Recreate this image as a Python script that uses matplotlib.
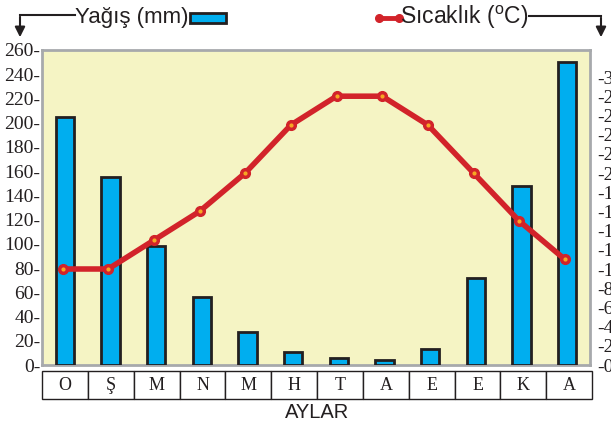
import matplotlib
matplotlib.use("Agg")
import matplotlib.pyplot as plt
from matplotlib.patches import Rectangle
from matplotlib.lines import Line2D

months = ["O", "Ş", "M", "N", "M", "H", "T", "A", "E", "E", "K", "A"]
rain_mm = [205, 155, 98, 56, 27, 11, 6, 4, 13, 72, 148, 250]
temp_c = [10, 10, 13, 16, 20, 25, 28, 28, 25, 20, 15, 11]
left_ticks = list(range(0, 261, 20))
right_ticks = list(range(0, 31, 2))

plt.rcParams['mathtext.fontset'] = 'custom'
plt.rcParams['mathtext.rm'] = 'Liberation Sans'

W, H = 611, 425
fig = plt.figure(figsize=(W / 100, H / 100), dpi=100)
fig.patch.set_facecolor("white")

def fx(x):
    return x / W

def fy(y):
    return 1 - y / H

L, R, T, B = 42, 590, 50, 365
ax = fig.add_axes([fx(L), fy(B), fx(R) - fx(L), fy(T) - fy(B)])
ax.set_facecolor("#F5F4C4")
for s in ax.spines.values():
    s.set_color("#A7A9AC")
    s.set_linewidth(2)

x = list(range(len(months)))
ax.bar(x, rain_mm, width=0.4, color="#00AEEF", edgecolor="#231F20", linewidth=2, zorder=3)
ax.set_xlim(-0.5, 11.5)
ax.set_ylim(0, 260)
ax.set_yticks(left_ticks)
ax.set_yticklabels([f"{v}-" for v in left_ticks], fontfamily="Liberation Serif", fontsize=14, color="#231F20")
ax.tick_params(axis="y", length=0, pad=1)
ax.set_xticks([])

ax2 = ax.twinx()
ax2.set_ylim(0, 315 / 9.6)
ax2.plot([v - 0.05 for v in x], temp_c, color="#D2232A", linewidth=4, marker="o", markersize=7,
         markerfacecolor="#D2232A", markeredgecolor="#D2232A", zorder=4, solid_capstyle="round")
ax2.plot([v - 0.05 for v in x], temp_c, linestyle="none", marker="o", markersize=2, color="#F7A823", zorder=5)
ax2.set_yticks(right_ticks)
ax2.set_yticklabels([f"-{v}" for v in right_ticks], fontfamily="Liberation Serif", fontsize=14, color="#231F20")
ax2.tick_params(axis="y", length=0, pad=5)
for s in ax2.spines.values():
    s.set_visible(False)

# month table
tbl = ax.table(cellText=[months], cellLoc="center", bbox=[0, -0.108, 1.004, 0.089])
tbl.auto_set_font_size(False)
for (r, c), cell in tbl.get_celld().items():
    cell.set_edgecolor("#231F20")
    cell.set_linewidth(1)
    cell.get_text().set_fontfamily("Liberation Serif")
    cell.get_text().set_fontsize(13)
    cell.get_text().set_color("#231F20")

fig.text(fx(317), fy(412), "AYLAR", ha="center", va="center", fontfamily="Liberation Sans", fontsize=14.5, color="#231F20")

# header legend
sans = "Liberation Sans"
fig.add_artist(Line2D([fx(20), fx(75)], [fy(15), fy(15)], color="#231F20", lw=1.5))
ax.annotate("", xy=(fx(20), fy(40)), xytext=(fx(20), fy(14)), xycoords="figure fraction",
            arrowprops=dict(arrowstyle="-|>", color="#231F20", lw=1.5, mutation_scale=15))
fig.text(fx(75), fy(17), "Yağış (mm)", ha="left", va="center", fontfamily=sans, fontsize=16, color="#231F20")
fig.add_artist(Rectangle((fx(190), fy(23)), fx(36), fy(13) - fy(23), transform=fig.transFigure,
                         facecolor="#00AEEF", edgecolor="#231F20", lw=2))

fig.add_artist(Line2D([fx(379), fx(399)], [fy(18), fy(18)], color="#D2232A", lw=3.5, marker="o",
                      markersize=5.5, markerfacecolor="#D2232A", markeredgecolor="#D2232A"))
t = fig.text(fx(400), fy(17), "Sıcaklık ($^{\\mathrm{o}}$C)", ha="left", va="center", fontfamily=sans, fontsize=16.5, color="#231F20")
fig.canvas.draw()
ext = t.get_window_extent()
xend = ext.x1 / W + 1 / W
fig.add_artist(Line2D([xend, fx(601)], [fy(16), fy(16)], color="#231F20", lw=1.5))
ax.annotate("", xy=(fx(601), fy(40)), xytext=(fx(601), fy(15)), xycoords="figure fraction",
            arrowprops=dict(arrowstyle="-|>", color="#231F20", lw=1.5, mutation_scale=15))

fig.savefig("out.png", dpi=100)
